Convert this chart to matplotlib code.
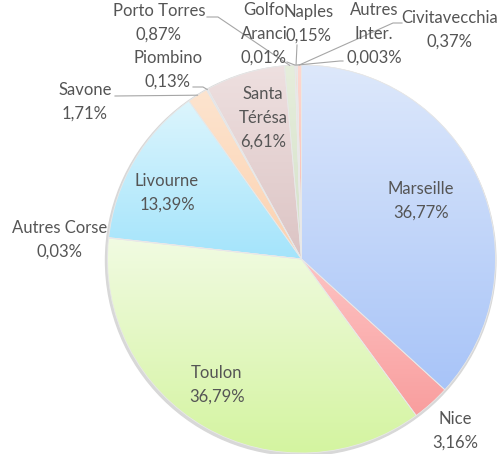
import matplotlib
matplotlib.use('Agg')
import matplotlib.pyplot as plt
import matplotlib.patches as mpatches
import numpy as np
from matplotlib.colors import to_rgb

plt.rcParams['font.family'] = ['Lato', 'DejaVu Sans']

# données : part de chaque port (%)
ports = ['Marseille', 'Nice', 'Toulon', 'Autres Corse', 'Livourne', 'Savone',
         'Piombino', 'Santa\nTérésa', 'Porto Torres', 'Golfo\nAranci', 'Naples',
         'Autres\nInter.', 'Civitavecchia']
parts = [36.77, 3.16, 36.79, 0.03, 13.39, 1.71, 0.13, 6.61, 0.87, 0.01, 0.15, 0.003, 0.37]
pct_labels = [f"{v:g}".replace('.', ',') + '%' for v in parts]

# dégradé haut -> bas de chaque part
col_top = ['#dde8fb', '#fdc4c4', '#f1fbe2', '#e4e4e4', '#dcf5fd', '#fde4cf',
           '#e0e4f0', '#eee0e0', '#e6eedc', '#e4ecf4', '#f4e4d8', '#ececec', '#fdd8d0']
col_bot = ['#a8c4f8', '#f99e9e', '#d4f4a0', '#cfcfcf', '#a4e4fb', '#fcd2b0',
           '#c8d0e4', '#dcc4c4', '#d4e0c8', '#ccd8e8', '#e8ccb8', '#d8d8d8', '#f9b8ac']

H = 454
cx, cy, R = 301.5, H - 259, 194

# position des étiquettes (pixels) et point d'ancrage des traits de rappel
label_pos = [(421, 201), (455, 431), (217, 385), (60, 240), (167, 193), (85, 102),
             (168, 70), (263, 118), (159, 23), (264, 34), (309, 24), (374, 34), (450, 30)]
leaders = {5: [(115, 96)],
           6: [(193, 87), (203, 87)],
           8: [(207, 17), (218, 17)],
           9: [(287, 62)],
           10: [(297, 45)],
           11: [(343, 61), (340, 61)],
           12: [(402, 23), (393, 23)]}

fig = plt.figure(figsize=(5.03, 4.54), dpi=100)
ax = fig.add_axes([0, 0, 1, 1])

# ombre légère
ax.add_patch(mpatches.Circle((cx - 0.8, cy - 1.5), R + 1.2, color='#d8d8d8', zorder=0))

wedges, _ = ax.pie(parts, startangle=90, counterclock=False, center=(cx, cy), radius=R,
                   wedgeprops=dict(linewidth=0.6, edgecolor='#e8e8e8', zorder=3))

for w, ct, cb in zip(wedges, col_top, col_bot):
    bb = w.get_path().get_extents()
    t = np.linspace(0, 1, 256)[:, None, None]
    grad = (1 - t) * np.array(to_rgb(ct)) + t * np.array(to_rgb(cb))
    im = ax.imshow(grad, extent=(bb.x0, bb.x1, bb.y0, bb.y1), origin='upper',
                   aspect='auto', zorder=2, interpolation='bilinear')
    im.set_clip_path(w)
    w.set_facecolor('none')

# traits de rappel vers le milieu des petites parts
for i, pts in leaders.items():
    th = np.deg2rad((wedges[i].theta1 + wedges[i].theta2) / 2)
    end = (cx + R * np.cos(th), cy + R * np.sin(th))
    xs = [p[0] for p in pts] + [end[0]]
    ys = [H - p[1] for p in pts] + [end[1]]
    ax.plot(xs, ys, color='#a6a6a6', lw=0.8, zorder=4)

for name, pct, (x, y) in zip(ports, pct_labels, label_pos):
    ax.text(x, H - y, name + '\n' + pct, ha='center', va='center', fontsize=12,
            color='#555555', linespacing=1.6, zorder=5)

ax.set_xlim(0, 503)
ax.set_ylim(0, H)
ax.set_aspect('equal')
ax.axis('off')

plt.savefig('out.png', dpi=100, facecolor='white')
plt.close()
